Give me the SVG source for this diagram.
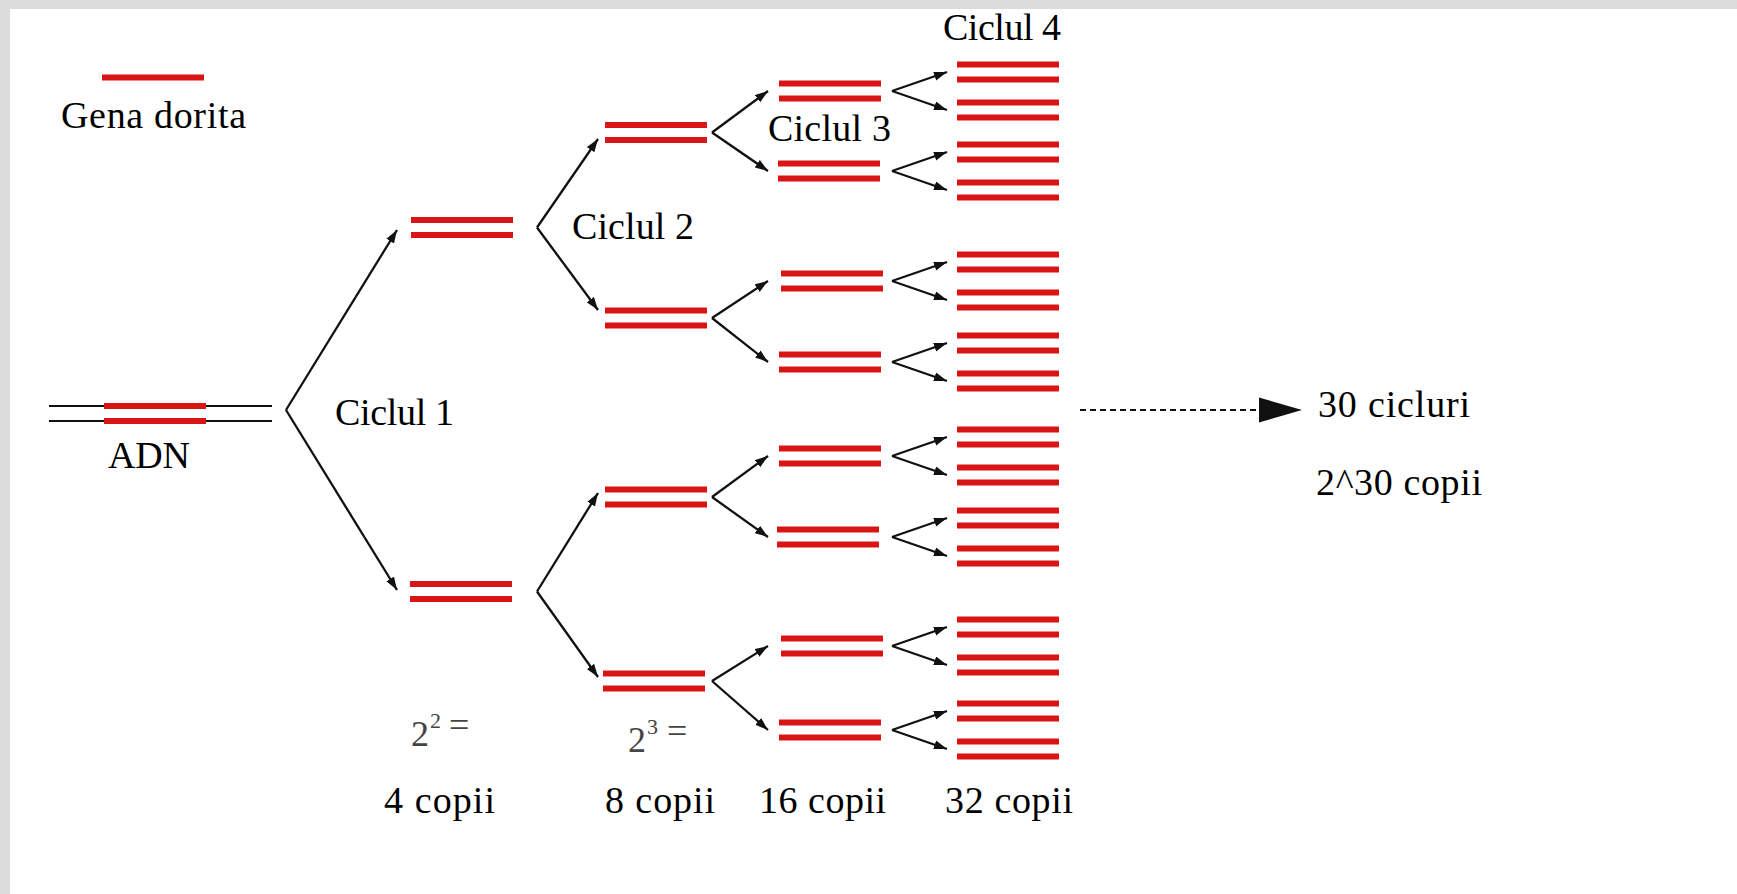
<svg xmlns="http://www.w3.org/2000/svg" xmlns:xlink="http://www.w3.org/1999/xlink" width="1737" height="894" viewBox="0 0 1737 894">
<style>
.red{stroke:#d91414;stroke-width:6;fill:none}
.dna{stroke:#111;stroke-width:2;fill:none}
.arr{stroke:#111;stroke-width:2.3;fill:none;marker-end:url(#ah)}
.t{font-family:"Liberation Serif","Times New Roman",serif;font-size:38px;fill:#000}
.g{font-family:"Liberation Serif","Times New Roman",serif;fill:#444}
</style>
<defs>
<marker id="ah" markerUnits="userSpaceOnUse" markerWidth="15" markerHeight="10" refX="13" refY="4.5" orient="auto">
<path d="M0,0 L13,4.5 L0,9 z" fill="#111"/>
</marker>
<g id="pair">
<line class="red" x1="0" y1="-7.5" x2="102" y2="-7.5"/>
<line class="red" x1="0" y1="7.5" x2="102" y2="7.5"/>
</g>
</defs>
<rect x="0" y="0" width="1737" height="894" fill="#ffffff"/>
<rect x="0" y="0" width="1737" height="9" fill="#dcdcdc"/>
<rect x="0" y="0" width="10" height="894" fill="#dcdcdc"/>

<g id="legend">
<line class="red" x1="102" y1="77.5" x2="204" y2="77.5"/>
<text class="t" x="61" y="128" textLength="185">Gena dorita</text>
</g>

<g id="adn">
<line class="dna" x1="49" y1="406" x2="272" y2="406"/>
<line class="dna" x1="49" y1="421" x2="272" y2="421"/>
<line class="red" x1="104" y1="406" x2="206" y2="406"/>
<line class="red" x1="104" y1="421" x2="206" y2="421"/>
<text class="t" x="108" y="468" textLength="82">ADN</text>
</g>

<g id="cycle1">
<use id="c1a" href="#pair" x="411" y="227.5"/>
<use id="c1b" href="#pair" x="410" y="591.5"/>
</g>
<g id="cycle2">
<use id="c2a" href="#pair" x="605" y="132.5"/>
<use id="c2b" href="#pair" x="605" y="318"/>
<use id="c2c" href="#pair" x="605" y="497"/>
<use id="c2d" href="#pair" x="603" y="681"/>
</g>
<g id="cycle3">
<use id="c3a" href="#pair" x="779" y="91"/>
<use id="c3b" href="#pair" x="778" y="171"/>
<use id="c3c" href="#pair" x="781" y="281"/>
<use id="c3d" href="#pair" x="779" y="362"/>
<use id="c3e" href="#pair" x="779" y="456"/>
<use id="c3f" href="#pair" x="777" y="537"/>
<use id="c3g" href="#pair" x="781" y="646"/>
<use id="c3h" href="#pair" x="779" y="730"/>
</g>
<g id="cycle4">
<use id="c4a" href="#pair" x="957" y="72"/>
<use id="c4b" href="#pair" x="957" y="110"/>
<use id="c4c" href="#pair" x="957" y="152"/>
<use id="c4d" href="#pair" x="957" y="190"/>
<use id="c4e" href="#pair" x="957" y="262"/>
<use id="c4f" href="#pair" x="957" y="300"/>
<use id="c4g" href="#pair" x="957" y="343"/>
<use id="c4h" href="#pair" x="957" y="381"/>
<use id="c4i" href="#pair" x="957" y="437"/>
<use id="c4j" href="#pair" x="957" y="475"/>
<use id="c4k" href="#pair" x="957" y="518"/>
<use id="c4l" href="#pair" x="957" y="556"/>
<use id="c4m" href="#pair" x="957" y="627"/>
<use id="c4n" href="#pair" x="957" y="665"/>
<use id="c4o" href="#pair" x="957" y="711"/>
<use id="c4p" href="#pair" x="957" y="749"/>
</g>

<g id="connectors">
<path class="arr" d="M286,410 L397,230"/>
<path class="arr" d="M286,410 L397,590"/>
<path class="arr" d="M537,227.5 L598,139"/>
<path class="arr" d="M537,227.5 L598,310"/>
<path class="arr" d="M537,591.5 L598,493"/>
<path class="arr" d="M537,591.5 L598,677"/>
<path class="arr" d="M712,132.5 L768,91"/>
<path class="arr" d="M712,132.5 L768,171"/>
<path class="arr" d="M712,318 L768,281"/>
<path class="arr" d="M712,318 L768,362"/>
<path class="arr" d="M712,497 L768,456"/>
<path class="arr" d="M712,497 L768,537"/>
<path class="arr" d="M712,681 L768,646"/>
<path class="arr" d="M712,681 L768,730"/>
<path class="arr" d="M892,91 L947,72"/>
<path class="arr" d="M892,91 L947,110"/>
<path class="arr" d="M892,171 L947,152"/>
<path class="arr" d="M892,171 L947,190"/>
<path class="arr" d="M892,281 L947,262"/>
<path class="arr" d="M892,281 L947,300"/>
<path class="arr" d="M892,362 L947,343"/>
<path class="arr" d="M892,362 L947,381"/>
<path class="arr" d="M892,456 L947,437"/>
<path class="arr" d="M892,456 L947,475"/>
<path class="arr" d="M892,537 L947,518"/>
<path class="arr" d="M892,537 L947,556"/>
<path class="arr" d="M892,646 L947,627"/>
<path class="arr" d="M892,646 L947,665"/>
<path class="arr" d="M892,730 L947,711"/>
<path class="arr" d="M892,730 L947,749"/>
<line x1="1080" y1="410" x2="1262" y2="410" stroke="#111" stroke-width="2" stroke-dasharray="6 4"/>
<polygon points="1259,397.5 1302,410 1259,422.5" fill="#111"/>
</g>

<g id="labels">
<text class="t" x="335" y="425" textLength="119">Ciclul 1</text>
<text class="t" x="572" y="239" textLength="122">Ciclul 2</text>
<text class="t" x="768" y="141" textLength="123">Ciclul 3</text>
<text class="t" x="943" y="40" textLength="118">Ciclul 4</text>
<text class="t" x="1318" y="417" textLength="152">30 cicluri</text>
<text class="t" x="1316" y="495" textLength="166">2^30 copii</text>
<text class="t" x="384" y="813" textLength="111">4 copii</text>
<text class="t" x="605" y="813" textLength="110">8 copii</text>
<text class="t" x="759" y="813" textLength="127">16 copii</text>
<text class="t" x="945" y="813" textLength="128">32 copii</text>
<text class="g" x="411" y="746" font-size="36">2</text>
<text class="g" x="430" y="728" font-size="22">2</text>
<text class="g" x="449" y="737" font-size="36">=</text>
<text class="g" x="628" y="752" font-size="36">2</text>
<text class="g" x="647" y="734" font-size="22">3</text>
<text class="g" x="667" y="743" font-size="36">=</text>
</g>
</svg>
